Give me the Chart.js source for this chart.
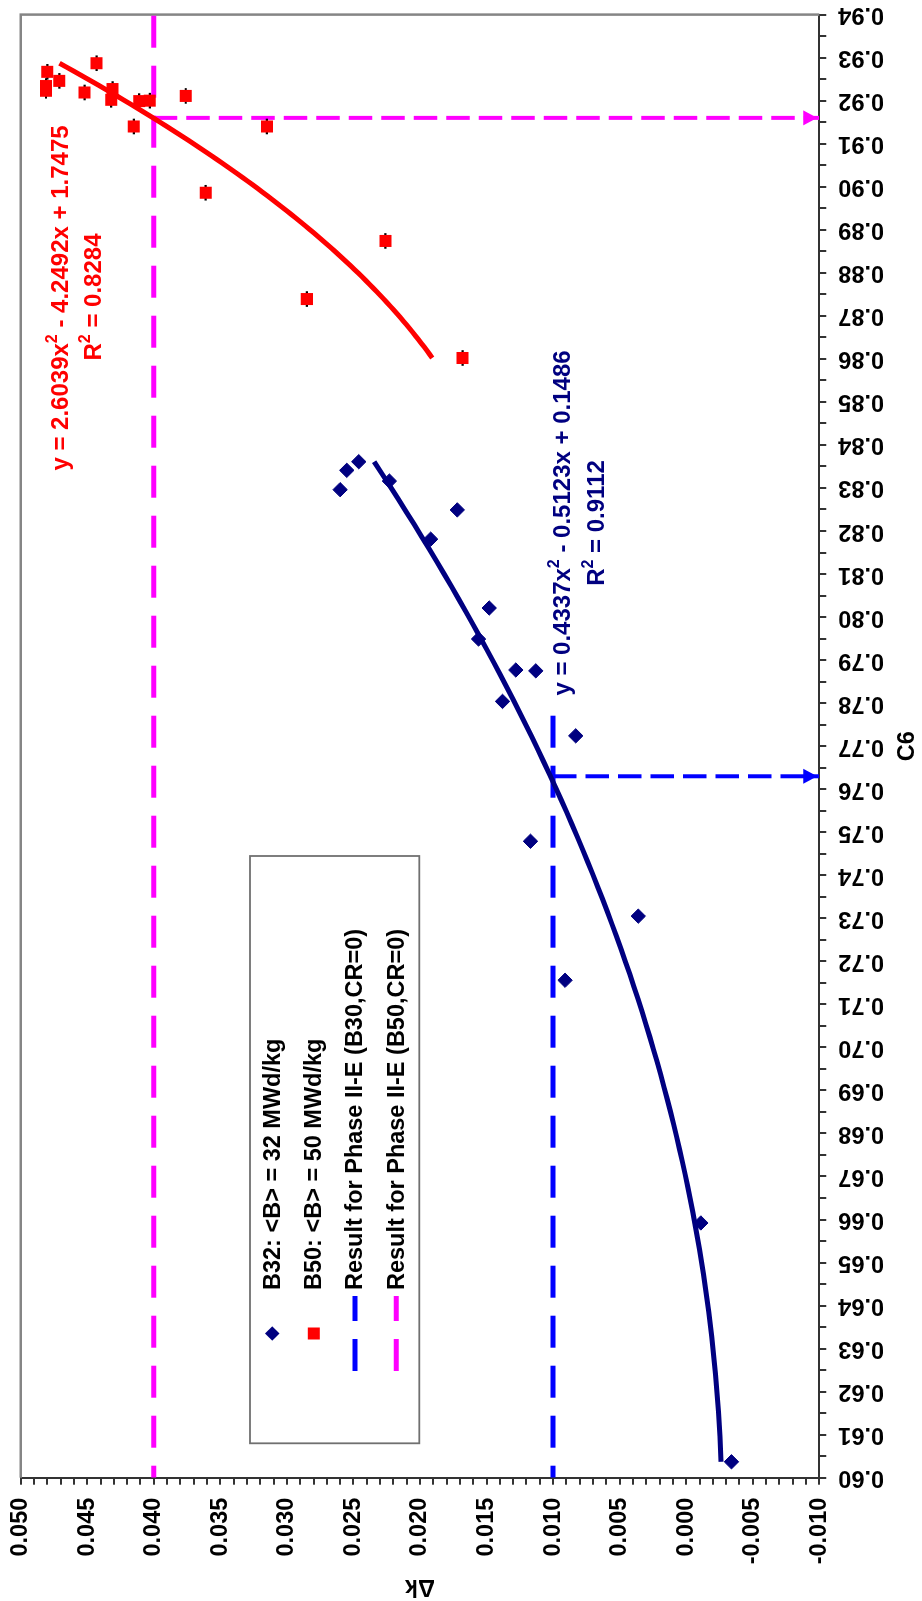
<!DOCTYPE html>
<html>
<head>
<meta charset="utf-8">
<script src="https://cdn.jsdelivr.net/npm/chart.js@4.4.1/dist/chart.umd.min.js"></script>
<style>
  html, body { margin: 0; padding: 0; background: #fff; }
  #page { position: relative; width: 922px; height: 1601px; overflow: hidden; background: #fff; }
  /* the chart is laid out landscape and turned a quarter turn counter-clockwise */
  #c { position: absolute; left: 0; top: 0; width: 1601px; height: 922px;
       transform-origin: 0 0; transform: translateY(1601px) rotate(-90deg); }
</style>
</head>
<body>
<div id="page"><canvas id="c" width="1601" height="922"></canvas></div>
<script>
const FONT = '"Liberation Sans", Arial, Helvetica, sans-serif';

// B32 series: C6 and delta-k
const b32C6 = [0.8296, 0.8341, 0.8361, 0.8316, 0.8249, 0.8181, 0.8021, 0.7949, 0.7877,
               0.7875, 0.7804, 0.7724, 0.7479, 0.7305, 0.7156, 0.6592, 0.6037];
const b32Dk = [0.0260, 0.0255, 0.0246, 0.0223, 0.0172, 0.0192, 0.0148, 0.0156, 0.0128,
               0.0113, 0.0138, 0.0083, 0.0117, 0.0036, 0.0091, -0.0011, -0.0034];

// B50 series: C6 and delta-k
const b50C6 = [0.9267, 0.9234, 0.9223, 0.9246, 0.9287, 0.9219, 0.9227, 0.9202, 0.9199,
               0.9200, 0.9140, 0.9211, 0.9140, 0.8986, 0.8874, 0.8739, 0.8602];
const b50Dk = [0.0480, 0.0481, 0.0481, 0.0471, 0.0443, 0.0452, 0.0431, 0.0432, 0.0411,
               0.0403, 0.0415, 0.0376, 0.0315, 0.0361, 0.0226, 0.0285, 0.0168];

// quadratic trendline coefficients (a, b, c) and R squared
const b32Fit = [0.4337, -0.5123, 0.1486];
const b50Fit = [2.6039, -4.2492, 1.7475];
const b32R2 = '0.9112';
const b50R2 = '0.8284';

// Phase II-E results (delta-k), the C6 range each result line covers,
// and the C6 each result maps to on its trendline
const resultDk = [0.010, 0.040];
const b30LineC6 = [0.60, 0.78];
const b50LineC6 = [0.60, 0.94];
const resultC6 = [0.763, 0.916];

const seriesNames = [
  'B32: <B> = 32 MWd/kg',
  'B50: <B> = 50 MWd/kg',
  'Result for Phase II-E (B30,CR=0)',
  'Result for Phase II-E (B50,CR=0)'
];

const c6TickLabels = ['0.60','0.61','0.62','0.63','0.64','0.65','0.66','0.67','0.68','0.69',
                      '0.70','0.71','0.72','0.73','0.74','0.75','0.76','0.77','0.78','0.79',
                      '0.80','0.81','0.82','0.83','0.84','0.85','0.86','0.87','0.88','0.89',
                      '0.90','0.91','0.92','0.93','0.94'];
const dkTickLabels = ['-0.010','-0.005','0.000','0.005','0.010','0.015','0.020',
                      '0.025','0.030','0.035','0.040','0.045','0.050'];

const NAVY = '#000080', RED = '#FF0000', BLUE = '#0000FF', MAGENTA = '#FF00FF';
const TEXT_SIZE = 23.5;
const EQ_SIZE = 24;

// ---- helpers ----
const pairs = (xs, ys) => xs.map((x, i) => ({ x, y: ys[i] }));

function fitCurve(coef, xs) {
  const lo = Math.min(...xs), hi = Math.max(...xs), n = 80, pts = [];
  for (let i = 0; i <= n; i++) {
    const x = lo + (hi - lo) * i / n;
    pts.push({ x, y: coef[0] * x * x + coef[1] * x + coef[2] });
  }
  return pts;
}

function withMinor(major, parts) {
  const out = [];
  major.forEach((v, i) => {
    out.push(v);
    if (i < major.length - 1) {
      for (let k = 1; k < parts; k++) out.push(v + (major[i + 1] - v) * k / parts);
    }
  });
  return out;
}

const c6Major = c6TickLabels.map(Number);
const dkMajor = dkTickLabels.map(Number);
const c6Ticks = withMinor(c6Major, 2);
const dkTicks = withMinor(dkMajor, 5);

function labelFor(labels, major, v) {
  const i = major.findIndex(m => Math.abs(m - v) < 1e-9);
  return i >= 0 ? labels[i] : '';
}

const fmt = v => Math.abs(v).toFixed(4);
function eqParts(c) {
  return [
    { t: 'y = ' + (c[0] < 0 ? '-' : '') + fmt(c[0]) + 'x' },
    { t: '2', sup: true },
    { t: (c[1] < 0 ? ' - ' : ' + ') + fmt(c[1]) + 'x' + (c[2] < 0 ? ' - ' : ' + ') + fmt(c[2]) }
  ];
}

// ---- datasets ----
const datasets = [
  { label: 'B32 trend', data: fitCurve(b32Fit, b32C6), showLine: true, borderColor: NAVY,
    borderWidth: 5, pointRadius: 0, fill: false, order: 1 },
  { label: 'B50 trend', data: fitCurve(b50Fit, b50C6), showLine: true, borderColor: RED,
    borderWidth: 5, pointRadius: 0, fill: false, order: 1 },
  { label: seriesNames[0], data: pairs(b32C6, b32Dk), pointStyle: 'rectRot', pointRadius: 7.2,
    backgroundColor: NAVY, borderColor: NAVY, borderWidth: 1, order: 2 },
  { label: seriesNames[1], data: pairs(b50C6, b50Dk), pointStyle: 'rect', pointRadius: 8.5,
    backgroundColor: RED, borderColor: RED, borderWidth: 0, order: 2 },
  { label: 'B50 caps', data: pairs(b50C6, b50Dk), pointStyle: 'line', pointRadius: 7.8,
    borderColor: '#000', borderWidth: 2.2, backgroundColor: '#000', order: 3 },
  { label: seriesNames[2], data: b30LineC6.map(x => ({ x, y: resultDk[0] })),
    showLine: true, borderColor: BLUE, borderWidth: 5, borderDash: [32, 18], borderDashOffset: 20,
    pointRadius: 0, order: 4 },
  { label: seriesNames[3], data: b50LineC6.map(x => ({ x, y: resultDk[1] })),
    showLine: true, borderColor: MAGENTA, borderWidth: 5, borderDash: [32, 18], borderDashOffset: 20,
    pointRadius: 0, order: 4 },
  { label: 'B30 pointer', data: [{ x: resultC6[0], y: resultDk[0] }, { x: resultC6[0], y: dkMajor[0] }],
    showLine: true, borderColor: BLUE, borderWidth: 4, borderDash: [23.5, 9], pointRadius: 0,
    arrowHead: true, order: 5 },
  { label: 'B50 pointer', data: [{ x: resultC6[1], y: resultDk[1] }, { x: resultC6[1], y: dkMajor[0] }],
    showLine: true, borderColor: MAGENTA, borderWidth: 4, borderDash: [23.5, 9], pointRadius: 0,
    arrowHead: true, order: 5 }
];

// ---- plugins ----
const plotFrame = {
  id: 'plotFrame',
  beforeDatasetsDraw(chart) {
    const { ctx, chartArea: a } = chart;
    ctx.save();
    ctx.strokeStyle = '#858585';
    ctx.lineWidth = 2.5;
    ctx.beginPath();
    ctx.moveTo(a.left, a.top);
    ctx.lineTo(a.right, a.top);
    ctx.lineTo(a.right, a.bottom);
    ctx.stroke();
    ctx.restore();
  }
};

const arrowHeads = {
  id: 'arrowHeads',
  afterDatasetsDraw(chart) {
    const ctx = chart.ctx;
    chart.data.datasets.forEach((ds, i) => {
      if (!ds.arrowHead) return;
      const pts = chart.getDatasetMeta(i).data;
      const p0 = pts[pts.length - 2], p1 = pts[pts.length - 1];
      const ang = Math.atan2(p1.y - p0.y, p1.x - p0.x);
      const len = 14, half = 7.5, back = 2;
      const tx = p1.x - Math.cos(ang) * back, ty = p1.y - Math.sin(ang) * back;
      const bx = tx - Math.cos(ang) * len, by = ty - Math.sin(ang) * len;
      ctx.save();
      ctx.fillStyle = ds.borderColor;
      ctx.beginPath();
      ctx.moveTo(tx, ty);
      ctx.lineTo(bx - Math.sin(ang) * half, by + Math.cos(ang) * half);
      ctx.lineTo(bx + Math.sin(ang) * half, by - Math.cos(ang) * half);
      ctx.closePath();
      ctx.fill();
      ctx.restore();
    });
  }
};

function drawRich(ctx, parts, cx, cy, size) {
  const main = 'bold ' + size + 'px ' + FONT;
  const small = 'bold ' + Math.round(size * 0.66) + 'px ' + FONT;
  let total = 0;
  parts.forEach(p => { ctx.font = p.sup ? small : main; p.w = ctx.measureText(p.t).width; total += p.w; });
  let x = cx - total / 2;
  ctx.textAlign = 'left';
  ctx.textBaseline = 'middle';
  parts.forEach(p => {
    ctx.font = p.sup ? small : main;
    ctx.fillText(p.t, x, p.sup ? cy - size * 0.36 : cy);
    x += p.w;
  });
}

const fitLabels = {
  id: 'fitLabels',
  afterDatasetsDraw(chart) {
    const ctx = chart.ctx;
    ctx.save();
    ctx.fillStyle = RED;
    drawRich(ctx, eqParts(b50Fit), 1303, 61, EQ_SIZE);
    drawRich(ctx, [{ t: 'R' }, { t: '2', sup: true }, { t: ' = ' + b50R2 }], 1304, 94, EQ_SIZE);
    ctx.fillStyle = NAVY;
    drawRich(ctx, eqParts(b32Fit), 1078, 563, EQ_SIZE);
    drawRich(ctx, [{ t: 'R' }, { t: '2', sup: true }, { t: ' = ' + b32R2 }], 1078, 597, EQ_SIZE);
    ctx.restore();
  }
};

const boxLegend = {
  id: 'boxLegend',
  afterDraw(chart) {
    const ctx = chart.ctx;
    const box = { l: 157.7, t: 250, r: 745, b: 419.3 };
    const rows = [272.3, 313.8, 355, 396.3];
    const sx0 = 230, sx1 = 305, mx = (sx0 + sx1) / 2, tx = 311;
    const ds = chart.data.datasets;
    ctx.save();
    ctx.fillStyle = '#fff';
    ctx.fillRect(box.l, box.t, box.r - box.l, box.b - box.t);
    ctx.strokeStyle = '#707070';
    ctx.lineWidth = 1.8;
    ctx.strokeRect(box.l, box.t, box.r - box.l, box.b - box.t);

    // marker entries
    ctx.fillStyle = ds[2].backgroundColor;
    ctx.beginPath();
    ctx.moveTo(mx - 7.2, rows[0]); ctx.lineTo(mx, rows[0] - 7.2);
    ctx.lineTo(mx + 7.2, rows[0]); ctx.lineTo(mx, rows[0] + 7.2);
    ctx.closePath(); ctx.fill();
    ctx.fillStyle = ds[3].backgroundColor;
    ctx.fillRect(mx - 6, rows[1] - 6, 12, 12);

    // dashed line entries
    [5, 6].forEach((k, j) => {
      ctx.strokeStyle = ds[k].borderColor;
      ctx.lineWidth = 5;
      ctx.setLineDash([32, 18]);
      ctx.beginPath();
      ctx.moveTo(sx0, rows[2 + j]);
      ctx.lineTo(sx1, rows[2 + j]);
      ctx.stroke();
    });
    ctx.setLineDash([]);

    ctx.fillStyle = '#000';
    ctx.font = 'bold ' + TEXT_SIZE + 'px ' + FONT;
    ctx.textAlign = 'left';
    ctx.textBaseline = 'middle';
    seriesNames.forEach((name, i) => ctx.fillText(name, tx, rows[i] + 1));
    ctx.restore();
  }
};

// ---- chart ----
const tickFont = { family: FONT, size: TEXT_SIZE, weight: 'bold' };

new Chart(document.getElementById('c'), {
  type: 'scatter',
  data: { datasets },
  options: {
    responsive: false,
    devicePixelRatio: 1,
    animation: false,
    events: [],
    layout: { padding: { top: 20.7, right: 14.6, bottom: 0, left: 0 } },
    plugins: { legend: { display: false }, tooltip: { enabled: false } },
    scales: {
      x: {
        type: 'linear', position: 'bottom', min: c6Major[0], max: c6Major[c6Major.length - 1],
        afterBuildTicks: s => { s.ticks = c6Ticks.map(v => ({ value: v })); },
        afterFit: s => { s.height = 922 - 819.3; s.paddingLeft = 0; s.paddingRight = 0; },
        ticks: {
          autoSkip: false, minRotation: 90, maxRotation: 90, padding: 12, color: '#000',
          font: tickFont, callback: v => labelFor(c6TickLabels, c6Major, v)
        },
        grid: { drawOnChartArea: false, drawTicks: true, tickLength: 7, color: '#333', lineWidth: 2 },
        border: { display: true, color: '#333', width: 2 },
        title: { display: true, text: 'C6', color: '#000', font: tickFont, padding: 0 }
      },
      y: {
        type: 'linear', position: 'left', min: dkMajor[0], max: dkMajor[dkMajor.length - 1],
        afterBuildTicks: s => { s.ticks = dkTicks.map(v => ({ value: v })); },
        afterFit: s => { s.width = 123.3; s.paddingTop = 0; s.paddingBottom = 0; },
        ticks: {
          autoSkip: false, padding: 13, color: '#000',
          font: tickFont, callback: v => labelFor(dkTickLabels, dkMajor, v)
        },
        grid: { drawOnChartArea: false, drawTicks: true, tickLength: 7, color: '#333', lineWidth: 2 },
        border: { display: true, color: '#333', width: 2 },
        title: { display: true, text: 'Δk', color: '#000', font: tickFont, padding: 0 }
      }
    }
  },
  plugins: [plotFrame, arrowHeads, fitLabels, boxLegend]
});
</script>
</body>
</html>
